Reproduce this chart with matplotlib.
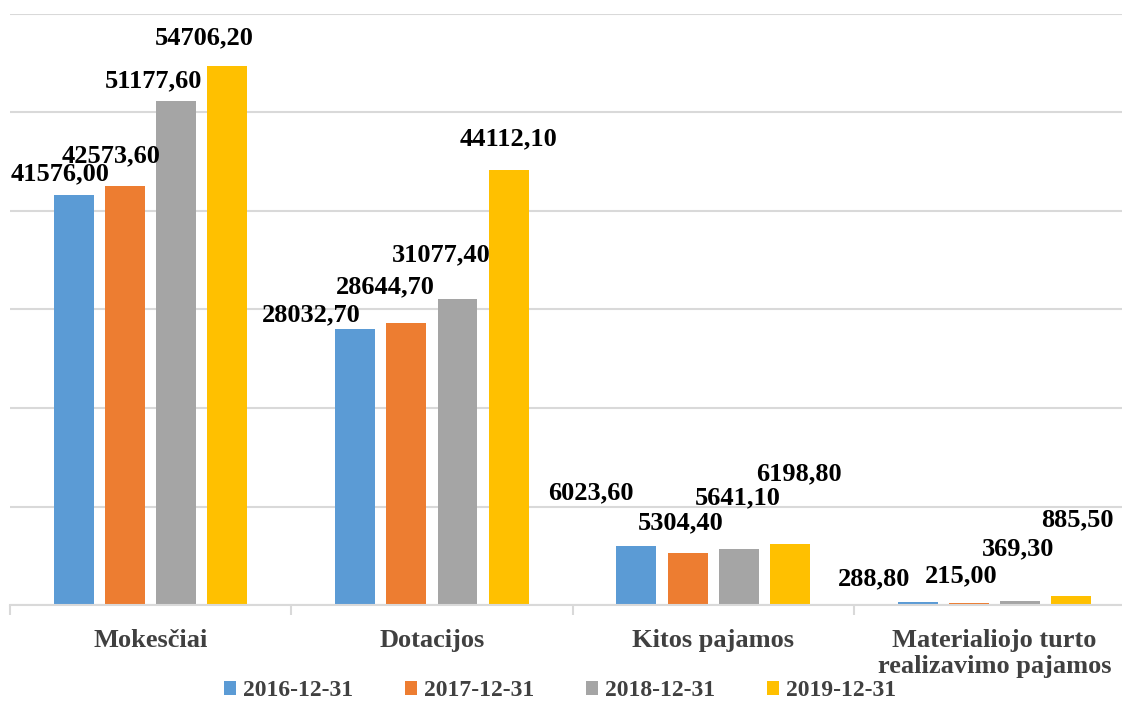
import numpy as np
import matplotlib
matplotlib.use("Agg")
import matplotlib.pyplot as plt
from matplotlib.patches import Patch

categories = ["Mokesčiai", "Dotacijos", "Kitos pajamos", "Materialiojo turto\nrealizavimo pajamos"]
series = ["2016-12-31", "2017-12-31", "2018-12-31", "2019-12-31"]
v2016 = [41576.00, 28032.70, 6023.60, 288.80]
v2017 = [42573.60, 28644.70, 5304.40, 215.00]
v2018 = [51177.60, 31077.40, 5641.10, 369.30]
v2019 = [54706.20, 44112.10, 6198.80, 885.50]
values = [v2016, v2017, v2018, v2019]
colors = ["#5B9BD5", "#ED7D31", "#A5A5A5", "#FFC000"]

# label offsets in pixels (dx, dy) from top centre of each bar, as placed in the original
label_off = [
    [(-14, 22), (-44, 14), (-45, 53), (-44, 23)],
    [(-14, 30), (-21, 36), (-7, 30), (-8, 27)],
    [(-23, 20), (-16, 44), (-1, 52), (-2, 53)],
    [(-23, 28), (0, 32), (9, 70), (6, 76)],
]

plt.rcParams['font.family'] = ['Liberation Serif', 'DejaVu Serif']
plt.rcParams['font.weight'] = 'bold'

W, H = 1122, 703
fig = plt.figure(figsize=(W / 100, H / 100), dpi=100)
ax = fig.add_axes([10 / W, 1 - 605 / H, (1135 - 10) / W, (605 - 14) / H])

x = np.arange(len(categories))
step = 0.182
width = 0.142
for j, (s, vals, c) in enumerate(zip(series, values, colors)):
    xs = x + (j - 1.5) * step
    ax.bar(xs, vals, width, color=c, zorder=3, label=s)
    for i, v in enumerate(vals):
        dx, dy = label_off[j][i]
        txt = f"{v:.2f}".replace(".", ",")
        ax.annotate(txt, (xs[i], v), xytext=(dx, dy), textcoords='offset pixels',
                    ha='center', va='center', fontsize=19, fontweight='bold',
                    color='black', zorder=5)

ax.set_ylim(0, 60000)
ax.set_xlim(-0.5, len(categories) - 0.5)
ax.set_yticks(np.arange(0, 60001, 10000))
ax.yaxis.grid(True, color='#d9d9d9', linewidth=1.5, zorder=0)
ax.tick_params(axis='y', left=False, labelleft=False)
for sp in ['top', 'right', 'left']:
    ax.spines[sp].set_visible(False)
ax.spines['bottom'].set_color('#d9d9d9')
ax.spines['bottom'].set_linewidth(1.5)
ax.spines['bottom'].set_zorder(4)

ax.set_xticks(x)
ax.set_xticklabels(categories, fontsize=19, fontweight='bold', color='#404040',
                   linespacing=1.2, va='top')
ax.tick_params(axis='x', which='major', length=0, pad=17)
ax.set_xticks(np.arange(-0.5, len(categories), 1), minor=True)
ax.tick_params(axis='x', which='minor', length=7, width=1.5, color='#d9d9d9', direction='out')

handles = [Patch(facecolor=c, edgecolor='none') for c in colors]
fig.legend(handles, series, loc='center', bbox_to_anchor=(560 / W, 1 - 691 / H), ncol=4,
           frameon=False, prop={'size': 17, 'weight': 'bold'}, labelcolor='#404040',
           handlelength=0.5, handleheight=0.5, handletextpad=0.3, columnspacing=2.2,
           borderpad=0, borderaxespad=0)

fig.savefig("out.png", dpi=100)
